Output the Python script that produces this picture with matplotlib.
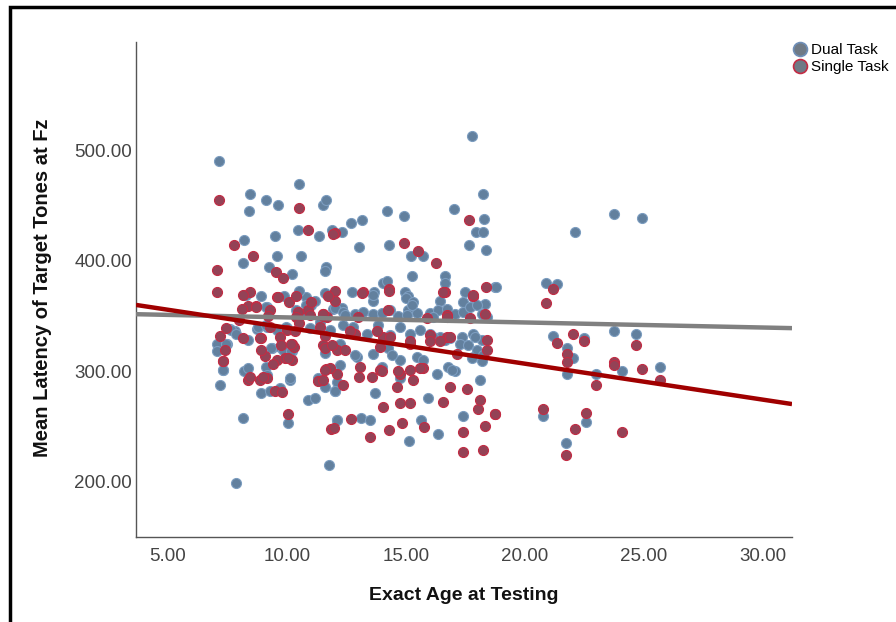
import matplotlib
matplotlib.use("Agg")
import matplotlib.pyplot as plt
from matplotlib.lines import Line2D
from matplotlib.patches import Rectangle
import numpy as np

# Dual task: (age, latency)
dual_age = [7.14, 8.45, 8.42, 9.12, 9.62, 10.52, 11.5, 11.64, 10.46, 11.36, 11.9, 8.2, 9.5, 9.6, 10.6,
            8.14, 9.26, 10.2, 11.64, 11.58,
            17.77, 18.24, 14.2, 14.9, 17.0, 18.3, 17.94, 18.22, 12.68, 13.17, 12.3, 13.02, 14.29, 15.2,
            15.7, 15.26, 17.66, 18.38, 14.05, 14.19, 16.64, 16.64, 12.74, 13.65, 14.96, 15.1, 17.5, 18.76,
            23.74, 24.93, 22.1, 18.77, 20.9, 21.33, 21.16, 22.5, 23.74, 24.65, 21.75, 22.03, 21.75, 22.98,
            24.08, 25.67, 20.77, 22.56, 21.72,
            8.2, 8.9, 9.87, 10.8, 10.8, 11.6, 9.15, 10.7, 11.95, 7.6, 7.8, 7.05, 7.05, 7.47, 8.37, 8.73,
            9.15, 9.57, 10.0, 9.36, 9.7, 9.85, 10.2, 7.3, 7.18, 8.2, 8.37, 9.12, 9.15, 8.9, 9.28, 9.7,
            10.15, 11.6, 12.0, 10.9, 8.16, 10.03, 12.1, 11.76, 7.88,
            10.4, 10.5, 11.0, 11.2, 11.4, 11.8, 11.6, 12.0, 11.2, 12.1, 12.3,
            13.6, 15.0, 15.3, 16.43, 17.41, 17.83, 18.32,
            12.0, 12.37, 12.86, 13.21, 13.63, 13.98, 14.33, 14.68, 15.1, 15.45, 16.01, 16.36, 16.71, 17.06,
            17.41, 17.69, 18.18, 18.39,
            12.37, 12.79, 13.35, 13.84, 14.33, 14.75, 15.17, 15.59, 16.01, 16.43, 16.85, 17.34, 17.83, 18.18,
            12.93, 13.63, 14.26, 14.75, 15.45, 15.73, 16.78, 17.06, 16.29, 18.11, 17.83, 13.98, 14.75,
            12.02, 13.7, 15.94, 12.12, 13.1, 13.49, 15.62, 16.36, 17.38, 15.14,
            8.3, 9.14, 7.67, 7.88, 8.79, 9.14, 9.98, 10.96, 7.46, 9.35, 10.19, 7.32, 10.12, 11.31,
            13.63, 15.24, 17.97, 12.44, 15.03, 16.15, 17.9, 16.15, 16.64, 17.27, 17.62, 17.97, 18.25,
            12.23, 12.86, 14.4, 16.92, 17.76, 18.18, 12.23]
dual_lat = [490, 460, 445, 455, 450, 469, 450, 455, 428, 422, 428, 419, 422, 404, 404,
            398, 394, 388, 394, 391,
            513, 460, 445, 440, 447, 438, 426, 426, 434, 437, 426, 412, 414, 404,
            404, 386, 414, 410, 380, 382, 386, 380, 372, 372, 372, 368, 372, 376,
            442, 439, 426, 376, 380, 379, 332, 330, 336, 334, 321, 312, 298, 298,
            300, 304, 260, 254, 235,
            369, 368, 368, 367, 360, 371, 358, 353, 356, 338, 336, 325, 318, 325, 328, 338,
            340, 337, 339, 321, 322, 319, 318, 301, 288, 300, 303, 304, 297, 280, 282, 285,
            292, 286, 282, 274, 258, 253, 256, 215, 199,
            355, 373, 360, 364, 345, 337, 317, 301, 276, 290, 357,
            364, 366, 363, 364, 363, 367, 361,
            357, 354, 352, 354, 352, 353, 355, 350, 355, 353, 353, 355, 356, 352,
            354, 358, 352, 349,
            342, 340, 334, 342, 333, 340, 334, 337, 334, 331, 330, 331, 334, 328,
            313, 316, 321, 310, 313, 310, 304, 300, 298, 292, 313, 304, 294,
            282, 280, 276, 256, 258, 256, 256, 243, 260, 237,
            369, 358, 337, 334, 340, 342, 340, 339, 325, 321, 318, 301, 294, 294,
            369, 360, 360, 351, 351, 349, 331, 331, 328, 325, 324, 319, 315,
            325, 315, 315, 301, 312, 309, 306]

# Single task: (age, latency)
single_age = [7.14, 10.52, 10.9, 12.0, 7.77, 8.57, 7.05, 9.54, 9.85, 7.05,
              17.66, 11.92, 14.9, 15.5, 16.26, 14.3, 16.64, 13.18, 11.9, 17.8, 18.36,
              21.16, 20.88, 21.33, 22.03, 22.5, 24.65, 21.75, 21.75, 22.98, 23.74, 23.74, 24.93, 25.67,
              18.75, 20.77, 22.56, 22.1, 24.06, 21.72,
              9.6, 10.1, 8.37, 8.7, 9.3, 10.47, 11.5, 11.67, 7.18, 7.4, 8.14, 8.9, 9.07, 9.6, 9.9, 10.2,
              7.3, 8.37, 8.45, 8.87, 9.15, 9.5, 11.3, 11.64, 12.1, 10.03, 11.87,
              8.0, 8.1, 8.45, 9.2, 9.3, 8.9, 9.4, 9.8, 10.2, 10.0, 10.3, 10.4, 10.5, 10.4, 10.9, 11.0,
              11.5, 11.6, 11.5, 11.8, 11.5, 12.0, 12.0, 11.96,
              13.17, 14.3, 16.57,
              13.0, 14.26, 15.87, 16.71, 17.69, 18.32,
              12.86, 14.05, 15.17, 16.01, 16.71, 17.13, 18.39, 18.39,
              12.09, 13.07, 13.91, 14.75, 15.31, 15.73, 12.37, 13.56, 16.85, 17.55, 14.61,
              14.05, 14.75, 15.17, 16.57, 18.04, 18.11, 12.68, 14.3, 14.82, 15.76, 17.38, 18.32, 18.74,
              13.49, 17.41, 18.22,
              8.16, 9.63, 11.73, 8.72, 10.96, 11.52, 7.46, 8.86, 9.7, 10.33, 11.38, 9.77, 10.19, 10.05,
              11.59, 7.32, 9.0, 11.59, 17.83, 16.71, 11.88, 12.44, 13.91, 14.33, 15.17, 16.01, 16.43,
              16.85, 14.68, 15.17, 15.59, 12.65, 13.77, 13.04, 13.98]
single_lat = [455, 448, 428, 425, 414, 404, 392, 390, 384, 372,
              437, 424, 416, 409, 398, 374, 372, 372, 368, 368, 376,
              374, 362, 326, 334, 327, 324, 316, 308, 288, 308, 306, 302, 292,
              261, 266, 262, 248, 245, 224,
              367, 363, 359, 359, 355, 354, 352, 349, 332, 319, 330, 330, 314, 310, 312, 325,
              309, 292, 295, 292, 294, 282, 291, 302, 298, 261, 248,
              346, 356, 372, 350, 340, 319, 307, 281, 310, 337, 322, 349, 344, 368, 355, 363,
              350, 332, 324, 303, 292, 373, 364, 249,
              371, 373, 372,
              349, 355, 348, 351, 348, 352,
              334, 331, 325, 333, 331, 316, 328, 319,
              319, 304, 301, 298, 292, 303, 288, 295, 286, 284, 286,
              268, 271, 271, 272, 266, 274, 257, 247, 253, 250, 245, 251, 261,
              241, 227, 229,
              369, 367, 368, 358, 351, 352, 339, 330, 331, 336, 340, 324, 325, 312,
              321, 309, 295, 301, 369, 349, 324, 319, 322, 331, 327, 327, 327,
              331, 300, 301, 303, 336, 336, 295, 300]

# fit lines: intercept, slope
dual_fit = (353.3, -0.457)
single_fit = (371.9, -3.25)

xlim = (3.66, 31.22)
ylim = (150.3, 597.6)
xticks = [5, 10, 15, 20, 25, 30]
yticks = [200, 300, 400, 500]

plt.rcParams['font.family'] = ['Liberation Sans', 'DejaVu Sans']

fig = plt.figure(figsize=(8.96, 6.22), dpi=100)
ax = fig.add_axes([136 / 896, 1 - 537 / 622, 656 / 896, 495 / 622])

ax.scatter(dual_age, dual_lat, s=52, color='#62809e', edgecolors='#7c9dc0', linewidths=0.8, zorder=2)
ax.scatter(single_age, single_lat, s=52, color='#944256', edgecolors='#c42c44', linewidths=0.8, zorder=2)

xs = np.array(xlim)
ax.plot(xs, dual_fit[0] + dual_fit[1] * xs, color='#808080', lw=3.2, zorder=3, solid_capstyle='butt')
ax.plot(xs, single_fit[0] + single_fit[1] * xs, color='#a00000', lw=3.2, zorder=3, solid_capstyle='butt')

ax.set_xlim(*xlim)
ax.set_ylim(*ylim)
ax.set_xticks(xticks)
ax.set_yticks(yticks)
ax.set_xticklabels([f'{v:.2f}' for v in xticks])
ax.set_yticklabels([f'{v:.2f}' for v in yticks])
ax.tick_params(length=0, labelsize=13.5, labelcolor='#444444')
ax.tick_params(axis='x', pad=8)
ax.tick_params(axis='y', pad=3)
for side in ['top', 'right']:
    ax.spines[side].set_visible(False)
for side in ['left', 'bottom']:
    ax.spines[side].set_color('#555555')
    ax.spines[side].set_linewidth(1.0)

fig.text(464 / 896, 1 - 596 / 622, 'Exact Age at Testing', ha='center', va='center',
         fontsize=14, fontweight='bold', color='#111111')
fig.text(42 / 896, 1 - 288 / 622, 'Mean Latency of Target Tones at Fz', ha='center', va='center',
         rotation=90, fontsize=14.5, fontweight='bold', color='#111111')

handles = [Line2D([], [], ls='none', marker='o', markersize=10, markerfacecolor='#6f7a86',
                  markeredgecolor='#6f8fb8', markeredgewidth=1.2),
           Line2D([], [], ls='none', marker='o', markersize=10, markerfacecolor='#6f7a86',
                  markeredgecolor='#c42c44', markeredgewidth=1.2)]
fig.legend(handles, ['Dual Task', 'Single Task'], loc='upper left',
           bbox_to_anchor=(794 / 896, 1 - 43 / 622), frameon=False, fontsize=11,
           handlelength=0.8, handletextpad=0.3, labelspacing=0.2, borderpad=0, borderaxespad=0)

fig.patches.append(Rectangle((9.5 / 896, -0.1), 1.2, 1.1 - 6.5 / 622, transform=fig.transFigure,
                             fill=False, edgecolor='black', linewidth=2.5))

fig.savefig('out.png', dpi=100, facecolor='white')
